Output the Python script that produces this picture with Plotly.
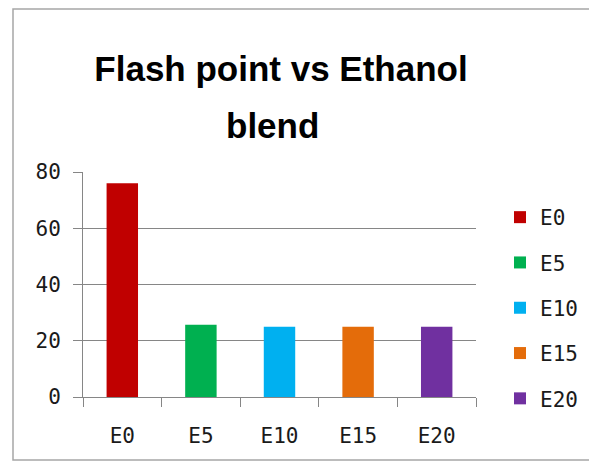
import plotly.graph_objects as go

categories = ["E0", "E5", "E10", "E15", "E20"]
flash_point = [76, 25.7, 25, 25, 25]
colors = ["#C00000", "#00B050", "#00B0F0", "#E46C0A", "#7030A0"]
y_ticks = [0, 20, 40, 60, 80]

W, H = 597, 462
OFF = 8  # page body margin offset
# target plot area in window pixels
PL, PR, PT, PB = 83, 476, 172, 397
L, T = PL - OFF, PT - OFF
R, B = W - (PR - OFF), H - (PB - OFF)
pw, ph = W - L - R, H - T - B

def px(x):
    return (x - OFF - L) / pw

def py(y):
    return (H - B - (y - OFF)) / ph

tick_font = dict(family="DejaVu Sans Mono", size=21, color="#1a1a1a")

fig = go.Figure()
for cat, val, col in zip(categories, flash_point, colors):
    fig.add_trace(go.Bar(
        x=[cat], y=[val], name=cat, width=0.4,
        marker=dict(color=col, line=dict(width=0)),
        legendgroup=cat,
    ))

fig.update_layout(
    width=W, height=H, autosize=False,
    margin=dict(l=L, r=R, t=T, b=B, pad=0, autoexpand=False),
    paper_bgcolor="white", plot_bgcolor="white",
    barmode="overlay",
    showlegend=True,
    title=dict(text="Flash point vs Ethanol", x=(281 - OFF) / W, xanchor="center",
               y=1 - (69 - OFF) / H, yanchor="middle",
               font=dict(family="Liberation Sans", size=35, color="black", weight="bold")),
    legend=dict(x=px(500), y=py(197), xanchor="left", yanchor="top",
                font=tick_font, tracegroupgap=15, bgcolor="rgba(0,0,0,0)"),
    xaxis=dict(categoryorder="array", categoryarray=categories, automargin=False,
               showline=True, linecolor="#868686", linewidth=1,
               ticks="outside", tickson="boundaries", ticklen=9, tickcolor="#868686",
               tickfont=tick_font, ticklabelstandoff=20, showgrid=False, fixedrange=True),
    yaxis=dict(range=[0, 80], tickvals=y_ticks, showline=True, linecolor="#868686",
               linewidth=1, ticks="outside", ticklen=9, tickcolor="#868686", automargin=False,
               showgrid=True, gridcolor="#868686", gridwidth=1, zeroline=False,
               tickfont=tick_font, ticklabelstandoff=8, fixedrange=True),
    annotations=[dict(text="blend", x=px(272), y=py(125.5), xref="paper", yref="paper",
                      xanchor="center", yanchor="middle", showarrow=False,
                      font=dict(family="Liberation Sans", size=35, color="black", weight="bold"))],
    shapes=[dict(type="rect", xref="paper", yref="paper",
                 x0=px(13), x1=px(595), y0=py(460), y1=py(9),
                 line=dict(color="#a6a6a6", width=1.5), layer="below")],
)

fig.write_html("out.html")
